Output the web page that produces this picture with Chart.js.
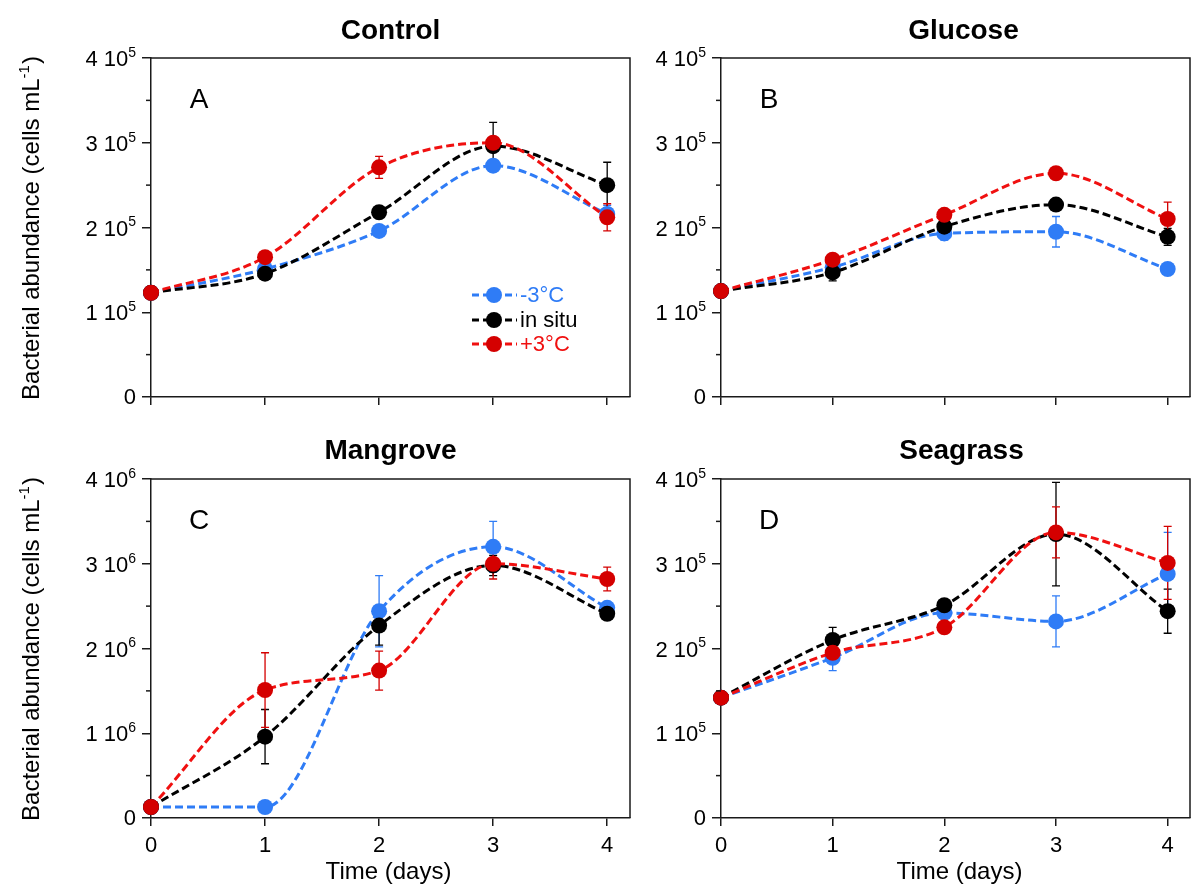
<!DOCTYPE html>
<html>
<head>
<meta charset="utf-8">
<script src="https://cdn.jsdelivr.net/npm/chart.js@4.4.1/dist/chart.umd.min.js"></script>
<style>
  body { margin: 0; background: #fff; width: 1198px; height: 888px; position: relative; overflow: hidden; }
  canvas { position: absolute; }
</style>
</head>
<body>
<canvas id="cA" width="640" height="420" style="left:0;top:0"></canvas>
<canvas id="cB" width="558" height="420" style="left:640px;top:0"></canvas>
<canvas id="cC" width="640" height="468" style="left:0;top:420px"></canvas>
<canvas id="cD" width="558" height="468" style="left:640px;top:420px"></canvas>
<script>
// time axis and tick labels
const days = [0, 1, 2, 3, 4];
const yTickSteps = [0, 1, 2, 3, 4];
const seriesLabels = ['-3°C', 'in situ', '+3°C'];

// Control (cells mL-1)
const controlCold = [1.23e5, 1.51e5, 1.96e5, 2.73e5, 2.16e5];
const controlSitu = [1.23e5, 1.455e5, 2.18e5, 2.96e5, 2.50e5];
const controlWarm = [1.23e5, 1.65e5, 2.71e5, 3.00e5, 2.12e5];
const controlColdErr = [0, 0.03e5, 0.03e5, 0.07e5, 0.10e5];
const controlSituErr = [0, 0.04e5, 0.06e5, 0.28e5, 0.27e5];
const controlWarmErr = [0, 0.03e5, 0.13e5, 0.06e5, 0.16e5];

// Glucose
const glucoseCold = [1.25e5, 1.53e5, 1.93e5, 1.95e5, 1.51e5];
const glucoseSitu = [1.25e5, 1.47e5, 2.01e5, 2.27e5, 1.89e5];
const glucoseWarm = [1.25e5, 1.62e5, 2.15e5, 2.64e5, 2.10e5];
const glucoseColdErr = [0, 0.04e5, 0.08e5, 0.18e5, 0.03e5];
const glucoseSituErr = [0, 0.10e5, 0.05e5, 0.03e5, 0.10e5];
const glucoseWarmErr = [0, 0.03e5, 0.04e5, 0.03e5, 0.20e5];

// Mangrove
const mangroveCold = [0.13e6, 0.13e6, 2.44e6, 3.20e6, 2.48e6];
const mangroveSitu = [0.13e6, 0.96e6, 2.27e6, 2.98e6, 2.41e6];
const mangroveWarm = [0.13e6, 1.51e6, 1.74e6, 3.00e6, 2.82e6];
const mangroveColdErr = [0, 0.02e6, 0.42e6, 0.30e6, 0.05e6];
const mangroveSituErr = [0, 0.32e6, 0.23e6, 0.12e6, 0.05e6];
const mangroveWarmErr = [0, 0.44e6, 0.23e6, 0.18e6, 0.14e6];

// Seagrass
const seagrassCold = [1.42e5, 1.89e5, 2.42e5, 2.32e5, 2.88e5];
const seagrassSitu = [1.42e5, 2.10e5, 2.51e5, 3.35e5, 2.44e5];
const seagrassWarm = [1.42e5, 1.95e5, 2.25e5, 3.37e5, 3.01e5];
const seagrassColdErr = [0, 0.15e5, 0.12e5, 0.30e5, 0.49e5];
const seagrassSituErr = [0, 0.15e5, 0.05e5, 0.61e5, 0.26e5];
const seagrassWarmErr = [0, 0.05e5, 0.03e5, 0.30e5, 0.43e5];

const FONT = '"Liberation Sans", Arial, sans-serif';
const AXIS = '#1a1a1a';
const lineColors = ['#2f7cf6', '#000000', '#f01010'];
const dotColors = ['#2f7cf6', '#000000', '#d40000'];

const panels = [
  { id: 'cA', title: 'Control', letter: 'A', exp: 5, legend: true, yTitle: true, xLabels: false,
    series: [controlCold, controlSitu, controlWarm], errors: [controlColdErr, controlSituErr, controlWarmErr],
    yW: 151, xH: 23, padTop: 58, padRight: 10, titleDx: 0 },
  { id: 'cB', title: 'Glucose', letter: 'B', exp: 5, legend: false, yTitle: false, xLabels: false,
    series: [glucoseCold, glucoseSitu, glucoseWarm], errors: [glucoseColdErr, glucoseSituErr, glucoseWarmErr],
    yW: 81, xH: 23, padTop: 58, padRight: 1, titleDx: 8 },
  { id: 'cC', title: 'Mangrove', letter: 'C', exp: 6, legend: false, yTitle: true, xLabels: true,
    series: [mangroveCold, mangroveSitu, mangroveWarm], errors: [mangroveColdErr, mangroveSituErr, mangroveWarmErr],
    yW: 151, xH: 70, padTop: 59, padRight: 10, titleDx: 0 },
  { id: 'cD', title: 'Seagrass', letter: 'D', exp: 5, legend: false, yTitle: false, xLabels: true,
    series: [seagrassCold, seagrassSitu, seagrassWarm], errors: [seagrassColdErr, seagrassSituErr, seagrassWarmErr],
    yW: 81, xH: 70, padTop: 59, padRight: 1, titleDx: 6 }
];

function panelPlugin(p) {
  const unit = Math.pow(10, p.exp);
  return {
    id: 'panelExtras',
    // error bars sit behind the markers
    beforeDatasetsDraw(chart) {
      const { ctx } = chart;
      const xs = chart.scales.x, ys = chart.scales.y;
      p.errors.forEach((errs, i) => {
        ctx.save();
        ctx.strokeStyle = dotColors[i];
        ctx.lineWidth = 1.3;
        days.forEach((d, k) => {
          if (!errs[k]) return;
          const x = xs.getPixelForValue(d);
          const y1 = ys.getPixelForValue(p.series[i][k] + errs[k]);
          const y2 = ys.getPixelForValue(p.series[i][k] - errs[k]);
          ctx.beginPath();
          ctx.moveTo(x, y1); ctx.lineTo(x, y2);
          ctx.moveTo(x - 4, y1); ctx.lineTo(x + 4, y1);
          ctx.moveTo(x - 4, y2); ctx.lineTo(x + 4, y2);
          ctx.stroke();
        });
        ctx.restore();
      });
    },
    afterDraw(chart) {
      const { ctx, chartArea: a } = chart;
      const ys = chart.scales.y;
      ctx.save();
      // top and right frame
      ctx.strokeStyle = AXIS;
      ctx.lineWidth = 1.5;
      ctx.beginPath();
      ctx.moveTo(a.left, a.top); ctx.lineTo(a.right, a.top); ctx.lineTo(a.right, a.bottom);
      ctx.stroke();
      // minor y ticks
      for (let k = 0; k < yTickSteps.length - 1; k++) {
        const y = ys.getPixelForValue((yTickSteps[k] + 0.5) * unit);
        ctx.beginPath(); ctx.moveTo(a.left - 5, y); ctx.lineTo(a.left, y); ctx.stroke();
      }
      // y tick labels with superscript exponent
      ctx.fillStyle = '#000';
      ctx.textBaseline = 'middle';
      yTickSteps.forEach(v => {
        const y = ys.getPixelForValue(v * unit);
        const right = a.left - 15;
        if (v === 0) {
          ctx.font = '22px ' + FONT; ctx.textAlign = 'right';
          ctx.fillText('0', right, y + 1);
          return;
        }
        ctx.font = '14px ' + FONT;
        const supW = ctx.measureText(String(p.exp)).width;
        ctx.textAlign = 'left';
        ctx.fillText(String(p.exp), right - supW, y - 5);
        ctx.font = '22px ' + FONT; ctx.textAlign = 'right';
        ctx.fillText(v + ' 10', right - supW, y + 2);
      });
      // panel title
      ctx.font = 'bold 28px ' + FONT;
      ctx.textAlign = 'center';
      ctx.fillText(p.title, (a.left + a.right) / 2 + p.titleDx, 31);
      // panel letter
      ctx.font = '28px ' + FONT;
      ctx.fillText(p.letter, a.left + 48, a.top + 42);
      // x axis title
      if (p.xLabels) {
        ctx.font = '24px ' + FONT;
        ctx.fillText('Time (days)', (a.left + a.right) / 2 + p.titleDx - 2, a.bottom + 54);
      }
      // y axis title
      if (p.yTitle) {
        ctx.save();
        ctx.translate(39, (a.top + a.bottom) / 2 + 1);
        ctx.rotate(-Math.PI / 2);
        ctx.textBaseline = 'alphabetic';
        ctx.textAlign = 'left';
        const main = 'Bacterial abundance (cells mL';
        ctx.font = '24px ' + FONT; const w1 = ctx.measureText(main).width; const w3 = ctx.measureText(')').width;
        ctx.font = '15px ' + FONT; const w2 = ctx.measureText('-1').width;
        let x0 = -(w1 + w2 + w3) / 2;
        ctx.font = '24px ' + FONT; ctx.fillText(main, x0, 0);
        ctx.font = '15px ' + FONT; ctx.fillText('-1', x0 + w1, -10);
        ctx.font = '24px ' + FONT; ctx.fillText(')', x0 + w1 + w2 + 1, 0);
        ctx.restore();
      }
      // legend
      if (p.legend) {
        const rows = [237, 262, 286];
        chart.data.datasets.forEach((ds, i) => {
          const y = a.top + rows[i];
          ctx.strokeStyle = lineColors[i];
          ctx.lineWidth = 3;
          ctx.setLineDash([7, 4]);
          ctx.beginPath(); ctx.moveTo(a.left + 321, y); ctx.lineTo(a.left + 366, y); ctx.stroke();
          ctx.setLineDash([]);
          ctx.fillStyle = dotColors[i];
          ctx.beginPath(); ctx.arc(a.left + 343, y, 8, 0, Math.PI * 2); ctx.fill();
          ctx.fillStyle = i === 1 ? '#000' : lineColors[i];
          ctx.font = '22px ' + FONT;
          ctx.textAlign = 'left';
          ctx.textBaseline = 'middle';
          ctx.fillText(ds.label, a.left + 369, y + 1);
        });
      }
      ctx.restore();
    }
  };
}

panels.forEach(p => {
  const unit = Math.pow(10, p.exp);
  const datasets = p.series.map((vals, i) => ({
    label: seriesLabels[i],
    data: days.map((d, k) => ({ x: d, y: vals[k] })),
    borderColor: lineColors[i],
    backgroundColor: dotColors[i],
    pointBackgroundColor: dotColors[i],
    pointBorderWidth: 0,
    pointRadius: 8,
    borderWidth: 3,
    borderDash: [8, 4],
    cubicInterpolationMode: 'monotone',
    clip: false,
    order: 3 - i
  }));

  new Chart(document.getElementById(p.id), {
    type: 'line',
    data: { datasets },
    options: {
      responsive: false,
      animation: false,
      devicePixelRatio: 1,
      layout: { padding: { top: p.padTop, right: p.padRight, left: 0, bottom: 0 } },
      plugins: { legend: { display: false }, tooltip: { enabled: false } },
      scales: {
        x: {
          type: 'linear', min: 0, max: 4.2,
          afterFit: s => { s.height = p.xH; },
          border: { color: AXIS, width: 1.5 },
          grid: { drawOnChartArea: false, tickLength: 8, color: AXIS, lineWidth: 1.5 },
          ticks: { stepSize: 1, includeBounds: false, display: p.xLabels, color: '#000',
                   font: { family: FONT, size: 22 }, padding: 7, maxRotation: 0 }
        },
        y: {
          min: 0, max: 4 * unit,
          afterFit: s => { s.width = p.yW; },
          border: { color: AXIS, width: 1.5 },
          grid: { drawOnChartArea: false, tickLength: 9, color: AXIS, lineWidth: 1.5 },
          ticks: { stepSize: unit, display: false }
        }
      }
    },
    plugins: [panelPlugin(p)]
  });
});
</script>
</body>
</html>
